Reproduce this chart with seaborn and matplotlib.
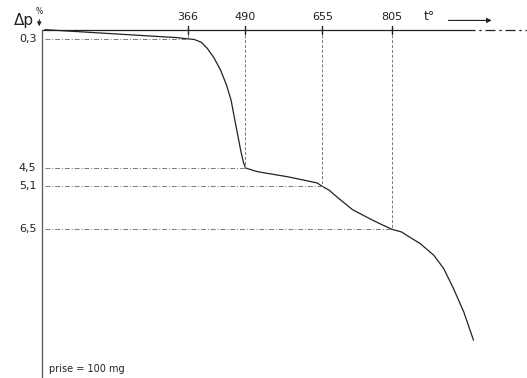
import matplotlib
matplotlib.use("Agg")
import matplotlib.pyplot as plt
import seaborn as sns
import pandas as pd

# points marked on the curve
temps_marked = [366, 490, 655, 805]
loss_marked = [0.3, 4.5, 5.1, 6.5]
temp_labels = ["366", "490", "655", "805"]
loss_labels = ["0,3", "4,5", "5,1", "6,5"]

# thermogravimetric curve
curve_t = [59, 343, 366, 380, 395, 408, 422, 436, 449, 459, 466, 473, 480,
           486, 490, 508, 518, 581, 644, 655, 670, 690, 720, 759, 782, 805,
           826, 837, 866, 895, 916, 937, 959, 980]
curve_loss = [0.0, 0.26, 0.3, 0.32, 0.41, 0.61, 0.91, 1.3, 1.79, 2.29, 2.85,
              3.4, 3.95, 4.34, 4.5, 4.59, 4.63, 4.79, 4.99, 5.1, 5.23, 5.49,
              5.86, 6.17, 6.34, 6.5, 6.59, 6.7, 6.97, 7.35, 7.78, 8.43, 9.19,
              10.11]

df = pd.DataFrame({"t": curve_t, "loss": curve_loss})

sns.set_style("white")
fig = plt.figure(figsize=(5.27, 3.78), dpi=100)
ax = fig.add_axes([0, 0, 1, 1])
ax.set_xlim(-37.4, 1094.9)
ax.set_ylim(11.34, -0.965)
ax.axis("off")

font = ["Liberation Sans Narrow", "DejaVu Sans"]
ink = "#222222"
guide = "#777777"
t0 = 53

# axes drawn by hand, like the original
ax.plot([t0, 962], [0, 0], color=ink, lw=0.9)
ax.plot([962, 1095], [0, 0], color=ink, lw=0.9, ls=(0, (8, 3, 2, 3)))
ax.plot([t0, t0], [0, 11.34], color="#555555", lw=0.9)

# the curve
sns.lineplot(data=df, x="t", y="loss", ax=ax, color=ink, lw=0.9,
             sort=False, estimator=None)

dash = (0, (5, 2, 1, 2))
for t, v, tl, vl in zip(temps_marked, loss_marked, temp_labels, loss_labels):
    ax.plot([t, t], [0, v], color=guide, lw=0.7, ls=(0, (3, 2)))
    ax.plot([t0 + 6, t], [v, v], color=guide, lw=0.7, ls=dash)
    ax.plot([t, t], [-0.13, 0.13], color=ink, lw=1.0)
    ax.text(t, -0.4, tl, ha="center", va="center", fontsize=8,
            family=font, color=ink)
    ax.text(t0 - 12, v, vl, ha="right", va="center", fontsize=8,
            family=font, color=ink)

ax.text(t0 - 18, -0.3, "Δp", ha="right", va="center", fontsize=11,
        family=font, color=ink)
ax.text(t0 - 6, -0.6, "%", ha="center", va="center", fontsize=5.5,
        family=font, color=ink)
ax.annotate("", xy=(t0 - 6, -0.02), xytext=(t0 - 6, -0.42),
            arrowprops=dict(arrowstyle="-|>", color=ink, lw=0.7,
                            mutation_scale=6))

ax.text(885, -0.42, "t°", ha="center", va="center", fontsize=9,
        family=font, color=ink)
ax.annotate("", xy=(1025, -0.3), xytext=(920, -0.3),
            arrowprops=dict(arrowstyle="-|>", color=ink, lw=0.8,
                            mutation_scale=7))

ax.text(t0 + 15, 11.05, "prise = 100 mg", ha="left", va="center",
        fontsize=7, family=font, color=ink)

fig.savefig("out.png", dpi=100)
